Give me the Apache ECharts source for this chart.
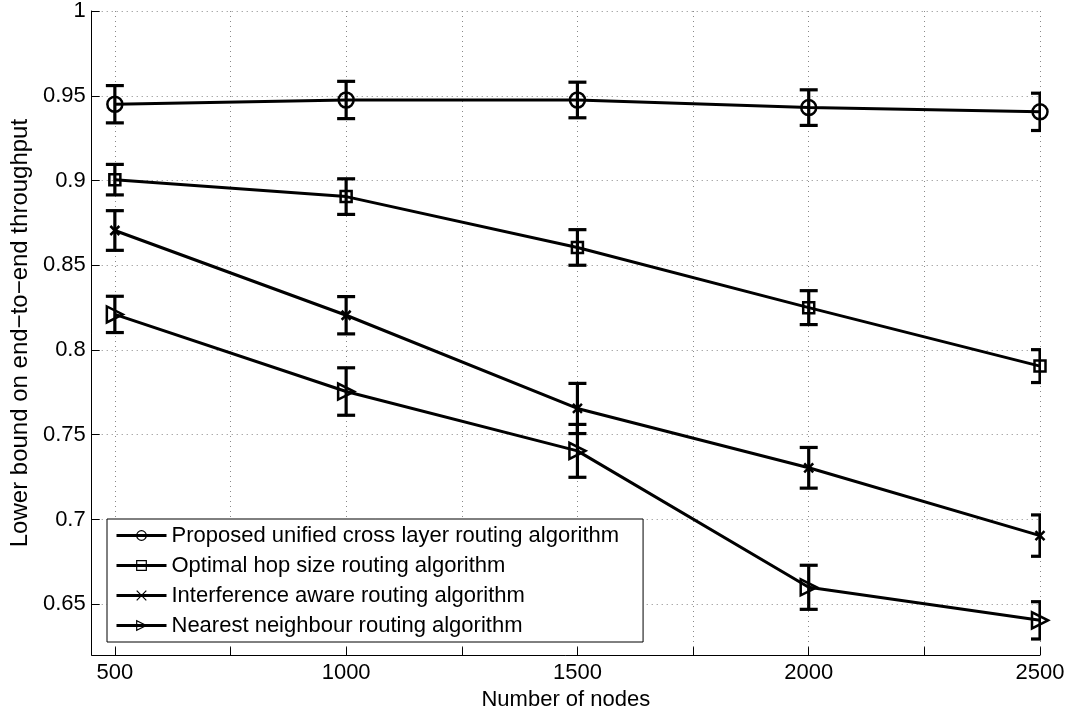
<!DOCTYPE html>
<html>
<head>
<meta charset="utf-8">
<script src="https://cdn.jsdelivr.net/npm/echarts@6/dist/echarts.min.js"></script>
<style>
html,body{margin:0;padding:0;background:#fff;}
#chart{width:1076px;height:716px;}
</style>
</head>
<body>
<div id="chart"></div>
<script>
const nodes = [500, 1000, 1500, 2000, 2500];
const xTicks = [500, 750, 1000, 1250, 1500, 1750, 2000, 2250, 2500];
const xLabels = [500, 1000, 1500, 2000, 2500];
const yTicks = [0.65, 0.7, 0.75, 0.8, 0.85, 0.9, 0.95, 1];

const proposed = [0.945, 0.9475, 0.9475, 0.943, 0.9405];
const proposedErr = [0.011, 0.011, 0.0105, 0.0105, 0.011];
const optimal = [0.9005, 0.8905, 0.8605, 0.825, 0.7905];
const optimalErr = [0.009, 0.0105, 0.0105, 0.010, 0.0097];
const interference = [0.8705, 0.8205, 0.7655, 0.7305, 0.6905];
const interferenceErr = [0.0117, 0.011, 0.0148, 0.012, 0.0122];
const nearest = [0.821, 0.7755, 0.7405, 0.66, 0.6405];
const nearestErr = [0.0107, 0.014, 0.0156, 0.013, 0.011];

const names = [
  'Proposed unified cross layer routing algorithm',
  'Optimal hop size routing algorithm',
  'Interference aware routing algorithm',
  'Nearest neighbour routing algorithm'
];

const FONT = '"Liberation Sans", Arial, Helvetica, sans-serif';
const FS = 22;
const chart = echarts.init(document.getElementById('chart'));

function lineSeries(name, vals, symbol, size, rotate) {
  return {
    name: name,
    type: 'line',
    data: nodes.map((x, i) => [x, vals[i]]),
    symbol: symbol,
    symbolSize: size,
    symbolRotate: rotate || 0,
    showSymbol: true,
    clip: false,
    z: 5,
    lineStyle: {color: '#000', width: 3},
    itemStyle: {color: 'rgba(255,255,255,0)', borderColor: '#000', borderWidth: 2.5},
    emphasis: {disabled: true},
    animation: false
  };
}

function errSeries(vals, errs) {
  return {
    type: 'custom',
    clip: true,
    z: 3,
    silent: true,
    animation: false,
    data: nodes.map((x, i) => [x, vals[i] - errs[i], vals[i] + errs[i]]),
    renderItem: function (params, api) {
      const x = api.value(0);
      const lo = api.coord([x, api.value(1)]);
      const hi = api.coord([x, api.value(2)]);
      const h = 9;
      const style = {stroke: '#000', lineWidth: 3.2, fill: null};
      return {
        type: 'group',
        children: [
          {type: 'line', shape: {x1: lo[0], y1: lo[1], x2: hi[0], y2: hi[1]}, style: style},
          {type: 'line', shape: {x1: lo[0] - h, y1: lo[1], x2: lo[0] + h, y2: lo[1]}, style: style},
          {type: 'line', shape: {x1: hi[0] - h, y1: hi[1], x2: hi[0] + h, y2: hi[1]}, style: style}
        ]
      };
    }
  };
}

const crossPath = 'path://M0,0L10,10M10,0L0,10';

chart.setOption({
  animation: false,
  backgroundColor: '#fff',
  textStyle: {fontFamily: FONT},
  grid: {left: 88, right: 36, top: 10, bottom: 59, containLabel: false},
  xAxis: {
    type: 'value',
    min: 450,
    max: 2500,
    name: 'Number of nodes',
    nameLocation: 'middle',
    nameGap: 29,
    nameTextStyle: {fontSize: FS, color: '#000', fontFamily: FONT},
    axisLine: {show: true, lineStyle: {color: '#000', width: 1}},
    axisTick: {show: true, inside: true, length: 8, customValues: xTicks, lineStyle: {color: '#000', width: 1}},
    axisLabel: {customValues: xLabels, fontSize: FS, color: '#000', margin: 7, fontFamily: FONT,
      formatter: v => String(v)},
    splitLine: {show: true, lineStyle: {color: '#888', type: [1, 4], width: 1}}
  },
  yAxis: {
    type: 'value',
    min: 0.62,
    max: 1,
    name: 'Lower bound on end\u2212to\u2212end throughput',
    nameLocation: 'middle',
    nameGap: 58,
    nameTextStyle: {fontSize: 24, color: '#000', fontFamily: FONT},
    axisLine: {show: true, lineStyle: {color: '#000', width: 1}},
    axisTick: {show: true, inside: true, length: 8, customValues: yTicks, lineStyle: {color: '#000', width: 1}},
    axisLabel: {customValues: yTicks, fontSize: FS, color: '#000', margin: 6, fontFamily: FONT,
      formatter: v => String(+v.toFixed(2))},
    splitLine: {show: true, lineStyle: {color: '#888', type: [1, 4], width: 1}}
  },
  legend: {
    data: names,
    orient: 'vertical',
    left: 107,
    top: 519,
    itemWidth: 50,
    itemHeight: 12,
    itemGap: 7,
    padding: [5, 24, 5, 8],
    borderColor: '#000',
    borderWidth: 1,
    backgroundColor: '#fff',
    selectedMode: false,
    lineStyle: {width: 3},
    itemStyle: {borderWidth: 1.2},
    textStyle: {fontSize: FS, color: '#000', fontFamily: FONT, lineHeight: 23}
  },
  series: [
    errSeries(proposed, proposedErr),
    errSeries(optimal, optimalErr),
    errSeries(interference, interferenceErr),
    errSeries(nearest, nearestErr),
    lineSeries(names[0], proposed, 'circle', 15),
    lineSeries(names[1], optimal, 'rect', 11),
    lineSeries(names[2], interference, crossPath, 9),
    lineSeries(names[3], nearest, 'triangle', 16, -90)
  ]
});
</script>
</body>
</html>
